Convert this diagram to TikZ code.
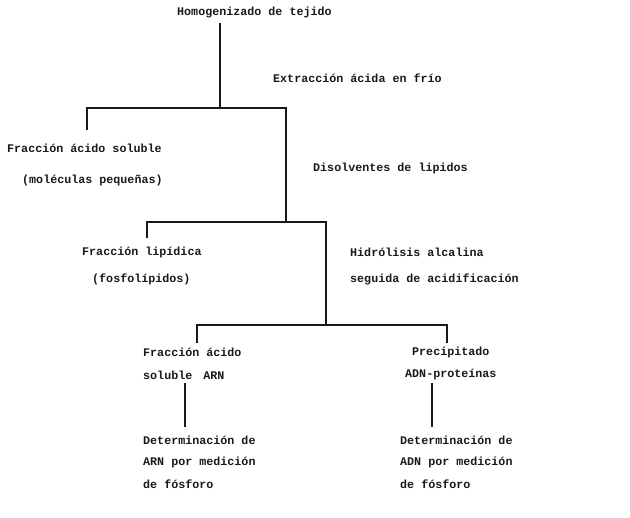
\documentclass[tikz,border=0pt]{standalone}
\usepackage{fontspec}
\setmonofont{Liberation Mono}
\begin{document}
\begin{tikzpicture}[x=1pt,y=-1pt,
  txt/.style={anchor=west,inner sep=0pt,font=\fontsize{11.7}{14}\selectfont\ttfamily\bfseries,text=black!90},
  ln/.style={line width=1.3pt,black!90}]
\useasboundingbox (0,0) rectangle (630,518);
% texts
\node[txt] (hom) at (177,13) {Homogenizado de tejido};
\node[txt] (ext) at (273,78) {Extracción ácida en frío};
\node[txt] (fas) at (7,148) {Fracción ácido soluble};
\node[txt] (mol) at (22,180) {(moléculas pequeñas)};
\node[txt] (dis) at (313,168) {Disolventes de lipidos};
\node[txt] (fli) at (82,252) {Fracción lipídica};
\node[txt] (fos) at (92,279) {(fosfolípidos)};
\node[txt] (hid) at (350,252) {Hidrólisis alcalina};
\node[txt] (seg) at (350,279) {seguida de acidificación};
\node[txt] (fa1) at (143,352) {Fracción ácido};
\node[txt] (fa2) at (143,375) {soluble\hspace{4pt} ARN};
\node[txt] (pr1) at (412,352) {Precipitado};
\node[txt] (pr2) at (405,375) {ADN-proteínas};
\node[txt] (dl1) at (143,440) {Determinación de};
\node[txt] (dl2) at (143,462) {ARN por medición};
\node[txt] (dl3) at (143,484) {de fósforo};
\node[txt] (dr1) at (400,440) {Determinación de};
\node[txt] (dr2) at (400,462) {ADN por medición};
\node[txt] (dr3) at (400,484) {de fósforo};
% junction coordinates
\coordinate (c1t) at (220,23);
\coordinate (c1) at (220,108);
\coordinate (c1l) at (87,108);
\coordinate (c1lb) at (87,130);
\coordinate (c1r) at (286,108);
\coordinate (c2) at (286,222);
\coordinate (c2l) at (147,222);
\coordinate (c2lb) at (147,238);
\coordinate (c2r) at (326,222);
\coordinate (c3) at (326,325);
\coordinate (c3l) at (197,325);
\coordinate (c3lb) at (197,343);
\coordinate (c3r) at (447,325);
\coordinate (c3rb) at (447,343);
\coordinate (v1t) at (185,383);
\coordinate (v1b) at (185,427);
\coordinate (v2t) at (432,383);
\coordinate (v2b) at (432,427);
% connectors
\draw[ln] (c1t) -- (c1);
\draw[ln] (c1lb) -- (c1l) -- (c1r) -- (c2);
\draw[ln] (c2lb) -- (c2l) -- (c2r) -- (c3);
\draw[ln] (c3lb) -- (c3l) -- (c3r) -- (c3rb);
\draw[ln] (v1t) -- (v1b);
\draw[ln] (v2t) -- (v2b);
\end{tikzpicture}
\end{document}
